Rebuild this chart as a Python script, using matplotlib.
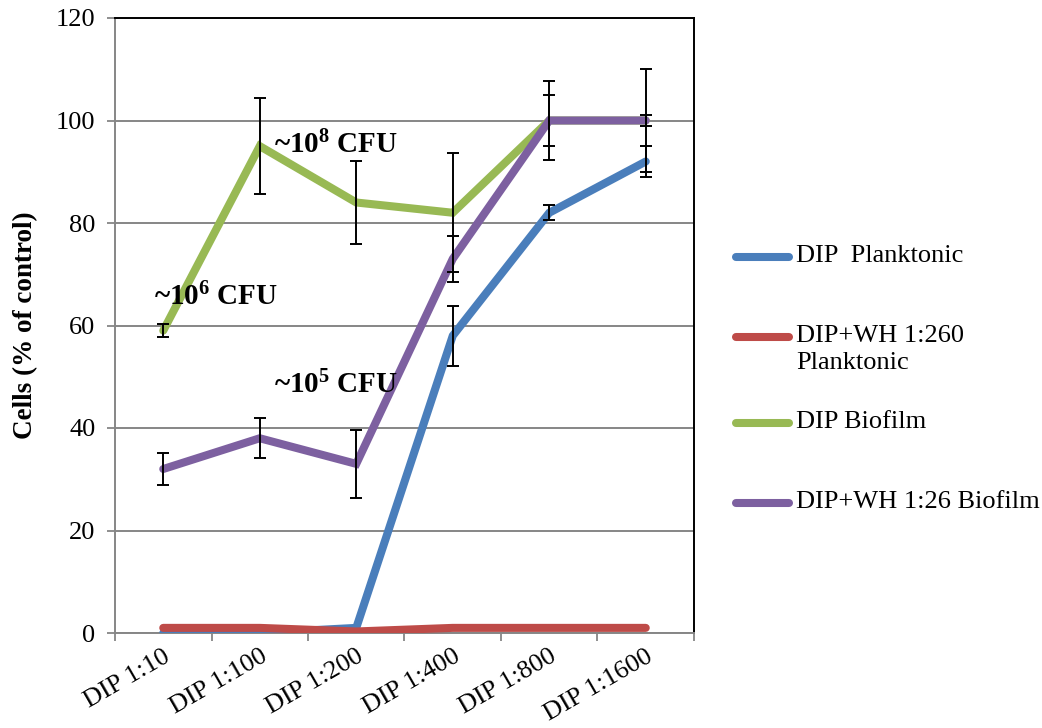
import matplotlib
matplotlib.use("Agg")
import matplotlib.pyplot as plt
from matplotlib.lines import Line2D
import numpy as np

plt.rcParams['font.family'] = ['Liberation Serif', 'DejaVu Serif']
plt.rcParams['mathtext.default'] = 'regular'

categories = ["DIP 1:10", "DIP 1:100", "DIP 1:200", "DIP 1:400", "DIP 1:800", "DIP 1:1600"]

dip_plank = [0, 0, 1, 58, 82, 92]
dip_plank_err = [0, 0, 0, 5.9, 1.5, 3.0]

dipwh_plank = [1, 1, 0.3, 1, 1, 1]

dip_bio = [59, 95, 84, 82, 100, 100]
dip_bio_err = [1.3, 9.3, 8.1, 11.6, 7.7, 10.0]

dipwh_bio = [32, 38, 33, 73, 100, 100]
dipwh_bio_err = [3.2, 3.9, 6.6, 4.5, 4.9, 1.1]

series_labels = ["DIP  Planktonic", "DIP+WH 1:260\nPlanktonic", "DIP Biofilm", "DIP+WH 1:26 Biofilm"]
colors = ["#4A7EBB", "#BE4B48", "#98B954", "#7D60A0"]

annotations = [("~10$^{8}$ CFU", 1.15, 95.2), ("~10$^{6}$ CFU", -0.1, 65.6), ("~10$^{5}$ CFU", 1.15, 48.3)]

fig = plt.figure(figsize=(10.42, 7.28), dpi=100)
ax = fig.add_axes([115 / 1042, 1 - 633 / 728, (694 - 115) / 1042, (633 - 18) / 728])

x = np.arange(len(categories))
lw = 5.8
all_series = [dip_plank, dipwh_plank, dip_bio, dipwh_bio]
for i, (vals, col) in enumerate(zip(all_series, colors)):
    ax.plot(x, vals, color=col, lw=lw, solid_capstyle='round', solid_joinstyle='miter', zorder=3 + i)

for vals, err in [(dip_plank, dip_plank_err), (dip_bio, dip_bio_err), (dipwh_bio, dipwh_bio_err)]:
    v = np.array(vals, dtype=float)
    e = np.array(err, dtype=float)
    m = e > 0
    ax.errorbar(x[m], v[m], yerr=e[m], fmt='none', ecolor='black', elinewidth=1.4,
                capsize=4.5, capthick=1.4, zorder=10)

for txt, xx, yy in annotations:
    ax.text(xx, yy, txt, fontsize=21, fontweight='bold', ha='left', va='center', zorder=12)

ax.set_xlim(-0.5, len(categories) - 0.5)
ax.set_ylim(0, 120)
ax.set_yticks(np.arange(0, 121, 20))
ax.tick_params(axis='y', labelsize=19, length=6, color='#868686', width=1.3, pad=8)
ax.yaxis.grid(True, color='#868686', lw=1.4)
ax.set_axisbelow(True)

ax.set_xticks(np.arange(len(categories) + 1) - 0.5)
ax.set_xticklabels([])
ax.set_xticks(x, minor=True)
ax.set_xticklabels(categories, minor=True, rotation=30, ha='right', rotation_mode='anchor', fontsize=19)
ax.tick_params(axis='x', which='major', length=6, color='#868686', width=1.3)
ax.tick_params(axis='x', which='minor', length=0, pad=9)

for s in ['left', 'bottom']:
    ax.spines[s].set_color('#868686')
    ax.spines[s].set_linewidth(1.4)
for s in ['top', 'right']:
    ax.spines[s].set_color('black')
    ax.spines[s].set_linewidth(1.4)

ax.set_ylabel("Cells (% of control)", fontsize=19.5, fontweight='bold')
ax.yaxis.set_label_coords(-0.133, 0.5)

# legend drawn in figure pixel space
W, H = 1042, 728
leg_rows = [257, 337, 423, 503]
for lab, col, yy in zip(series_labels, colors, leg_rows):
    fig.add_artist(Line2D([736 / W, 789 / W], [1 - yy / H, 1 - yy / H], color=col, lw=5.8,
                          solid_capstyle='round', transform=fig.transFigure))
    fig.text(796 / W, 1 - (yy - 12) / H, lab, fontsize=19, ha='left', va='top', linespacing=1.3)

fig.savefig("out.png", dpi=100)
